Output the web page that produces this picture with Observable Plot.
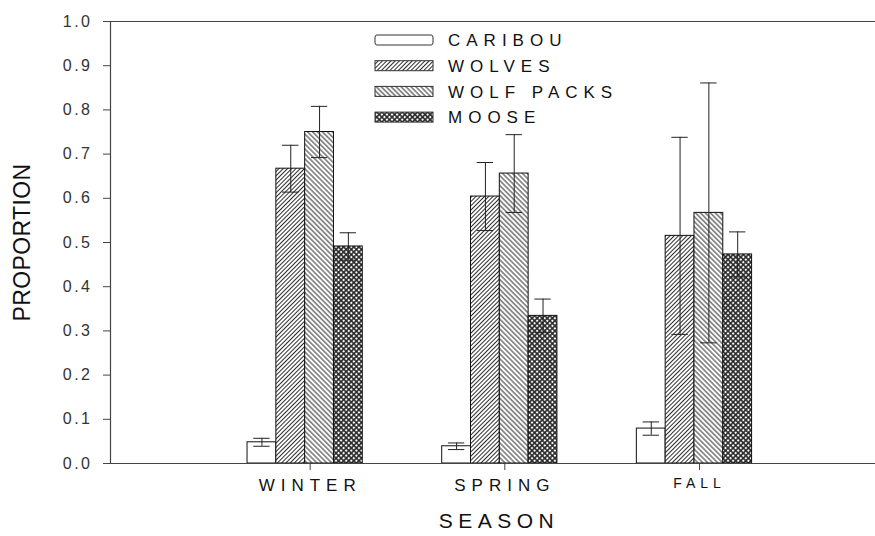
<!DOCTYPE html>
<html>
<head>
<meta charset="utf-8">
<script src="https://cdn.jsdelivr.net/npm/d3@7"></script>
<script src="https://cdn.jsdelivr.net/npm/@observablehq/plot@0.6"></script>
<style>
  html, body { margin: 0; padding: 0; background: #fff; }
  #chart svg { display: block; }
  g[aria-label="x-axis tick label"] text { letter-spacing: 6px; }
  g[aria-label="y-axis tick label"] text { letter-spacing: 2.5px; }
</style>
</head>
<body>
<div id="chart"></div>
<script>
// ---- data ----
const seasons = ["WINTER", "SPRING", "FALL"];
const seriesNames = ["CARIBOU", "WOLVES", "WOLF PACKS", "MOOSE"];
const caribou   = [0.048, 0.039, 0.079];
const wolves    = [0.667, 0.604, 0.515];
const wolfPacks = [0.750, 0.656, 0.567];
const moose     = [0.491, 0.334, 0.473];
const caribouErr   = [0.009, 0.0075, 0.015];
const wolvesErr    = [0.053, 0.077, 0.223];
const wolfPacksErr = [0.058, 0.088, 0.294];
const mooseErr     = [0.031, 0.038, 0.051];
const yTicks = [0, 0.1, 0.2, 0.3, 0.4, 0.5, 0.6, 0.7, 0.8, 0.9, 1.0];
const yLabel = "PROPORTION";
const xLabel = "SEASON";

// ---- build table ----
const values = [caribou, wolves, wolfPacks, moose];
const errors = [caribouErr, wolvesErr, wolfPacksErr, mooseErr];
const fills = ["white", "url(#pat-wolves)", "url(#pat-packs)", "url(#pat-moose)"];
const bw = 0.148;      // bar width in x units
const cap = 0.042;     // half cap width in x units
const rows = [];
seasons.forEach((s, i) => {
  seriesNames.forEach((n, j) => {
    const c = i + 1;
    const x1 = c + (j - 2) * bw, x2 = c + (j - 1) * bw;
    rows.push({season: s, series: n, j, x1, x2, xc: (x1 + x2) / 2, y: values[j][i], e: errors[j][i]});
  });
});

const FONT = "'Liberation Sans', Arial, Helvetica, sans-serif";

const plot = Plot.plot({
  width: 875,
  height: 536,
  marginLeft: 110,
  marginRight: 0,
  marginTop: 21,
  marginBottom: 73,
  style: {fontFamily: FONT, background: "white", color: "#222", overflow: "visible"},
  x: {domain: [0, 3.93], axis: null},
  y: {domain: [0, 1], axis: null},
  marks: [
    ...seriesNames.map((n, j) => Plot.rectY(rows.filter(r => r.j === j), {
      x1: "x1", x2: "x2", y1: () => 0, y2: "y",
      fill: fills[j], stroke: "#111", strokeWidth: 1
    })),
    Plot.ruleX(rows, {x: "xc", y1: d => d.y - d.e, y2: d => d.y + d.e, stroke: "#222", strokeWidth: 1}),
    Plot.ruleY(rows, {y: d => d.y + d.e, x1: d => d.xc - cap, x2: d => d.xc + cap, stroke: "#222", strokeWidth: 1}),
    Plot.ruleY(rows, {y: d => d.y - d.e, x1: d => d.xc - cap, x2: d => d.xc + cap, stroke: "#222", strokeWidth: 1}),
    Plot.ruleY([0, 1], {stroke: "#444", strokeWidth: 1.2}),
    Plot.ruleX([0], {stroke: "#444", strokeWidth: 1.2}),
    Plot.axisY({ticks: yTicks, tickSize: 7, tickPadding: 11, tickFormat: d3.format(".1f"),
      fontSize: 16, fill: "#333", stroke: "#444", label: null}),
    Plot.axisX({ticks: [1, 2, 3], tickSize: 7, tickPadding: 8, dx: 5, tickFormat: d => seasons[d - 1],
      fontSize: 17, fill: "#111", stroke: "#444", label: null}),
    Plot.text([yLabel], {frameAnchor: "left", textAnchor: "middle", dx: -88, rotate: -90, fontSize: 23, fill: "#111"}),
    Plot.text([xLabel], {frameAnchor: "bottom", textAnchor: "middle", dy: 64, dx: 6, fontSize: 21, fill: "#111"})
  ]
});

document.getElementById("chart").appendChild(plot);

// ---- patterns ----
const svg = d3.select(plot);
const defs = svg.insert("defs", ":first-child");
function hatch(id, size, angle) {
  const p = defs.append("pattern").attr("id", id).attr("patternUnits", "userSpaceOnUse")
    .attr("width", size).attr("height", size).attr("patternTransform", `rotate(${angle})`);
  p.append("rect").attr("width", size).attr("height", size).attr("fill", "white");
  p.append("line").attr("x1", size / 2).attr("x2", size / 2).attr("y1", 0).attr("y2", size)
    .attr("stroke", "#222").attr("stroke-width", 0.95);
}
hatch("pat-wolves", 3.0, 45);
hatch("pat-packs", 3.5, -45);
{
  const s = 3.6;
  const p = defs.append("pattern").attr("id", "pat-moose").attr("patternUnits", "userSpaceOnUse")
    .attr("width", s).attr("height", s).attr("patternTransform", "rotate(45)");
  p.append("rect").attr("width", s).attr("height", s).attr("fill", "#2a2a2a");
  p.append("circle").attr("cx", s / 2).attr("cy", s / 2).attr("r", 1.15).attr("fill", "white");
}

// ---- letter spacing for titles ----
svg.selectAll("text").filter(function() { return this.textContent === yLabel; })
  .style("letter-spacing", "0.4px");
svg.selectAll("text").filter(function() { return this.textContent === xLabel; })
  .style("letter-spacing", "5.5px");
svg.selectAll("g[aria-label='x-axis tick label'] text").filter(function() { return this.textContent === "FALL"; })
  .attr("font-size", 14).style("font-size", "14px").style("letter-spacing", "5px");

// ---- legend ----
const legend = svg.append("g").attr("class", "legend");
seriesNames.forEach((n, j) => {
  const cy = 40 + j * 25.7;
  legend.append("rect").attr("x", 375).attr("y", cy - 5).attr("width", 58).attr("height", 10)
    .attr("rx", j === 0 ? 2 : 0)
    .attr("fill", fills[j]).attr("stroke", "#333").attr("stroke-width", 1);
  legend.append("text").attr("x", 448).attr("y", cy).attr("dy", "0.36em")
    .attr("text-anchor", "start")
    .attr("font-size", 17).attr("fill", "#111").style("letter-spacing", "6px")
    .attr("font-family", FONT).text(n);
});
</script>
</body>
</html>
